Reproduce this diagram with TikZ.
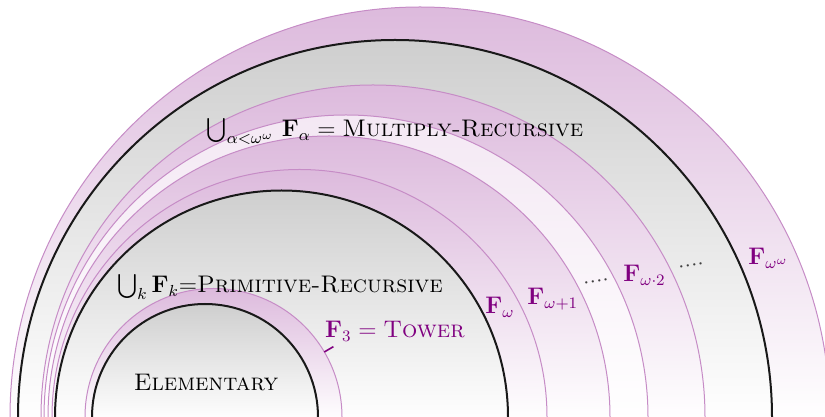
\documentclass[tikz,border=0pt]{standalone}
\usepackage{amsmath,amssymb}
\definecolor{mypurple}{HTML}{800080}
\tikzset{
  lbl/.style={font=\fontsize{12}{14}\selectfont, inner sep=0pt, anchor=base},
  plbl/.style={lbl, text=mypurple, anchor=base west},
  dlbl/.style={lbl, text=black!75, anchor=base west, rotate=9},
  pband/.style={top color=mypurple!27, bottom color=white, draw=mypurple!45, line width=0.5pt},
  pbandlight/.style={pband, top color=mypurple!9},
  gdisc/.style={top color=black!19, bottom color=white, draw=black!90, line width=1pt},
  tick/.style={draw=mypurple, line width=0.8pt},
}
\newcommand\halfdisc[3]{\path[#3] ({#1-#2},-4) -- ({#1-#2},0) arc[start angle=180,end angle=0,radius=#2] -- ({#1+#2},-4) -- cycle;}
\begin{document}
\begin{tikzpicture}[x=0.5pt,y=0.5pt]
\useasboundingbox (0,0) rectangle (825,417);
\clip (0,0) rectangle (825,417);
% outer F_{omega^omega}
\halfdisc{420}{410}{pband}
% Multiply-recursive
\halfdisc{395}{377}{gdisc}
% omega bands
\halfdisc{373}{332}{pband}
\halfdisc{346}{302}{pbandlight}
\halfdisc{329}{281}{pband}
\halfdisc{299.5}{247.5}{pband}
% Primitive recursive
\halfdisc{281.5}{226.5}{gdisc}
% F3 tower
\halfdisc{213.5}{128.5}{pband}
% Elementary
\halfdisc{205}{113}{gdisc}
% labels
\node[lbl] (mr) at (395,280) {$\bigcup_{\alpha<\omega^\omega}\,\mathbf{F}_\alpha = \textsc{Multiply-Recursive}$};
\node[lbl] (pr) at (280,124) {$\bigcup_k\mathbf{F}_k{=}$\textsc{Primitive-Recursive}};
\node[lbl] (el) at (206,26) {\textsc{Elementary}};
\node[lbl, text=mypurple] (tw) at (395,79) {$\mathbf{F}_3 = \textsc{Tower}$};
\node[plbl] (fw) at (485,103) {$\mathbf{F}_\omega$};
\node[plbl] (fw1) at (527,112) {$\mathbf{F}_{\omega+1}$};
\node[dlbl] (d1) at (583,132) {....};
\node[plbl] (fw2) at (623,135) {$\mathbf{F}_{\omega\cdot 2}$};
\node[dlbl] (d2) at (678,148) {....};
\node[plbl] (fww) at (748,152) {$\mathbf{F}_{\omega^\omega}$};
% tick from F3 circle to its label
\coordinate (t0) at ({213.5+128.5*cos(30.4)},{128.5*sin(30.4)});
\coordinate (t1) at ({213.5+139*cos(30.4)},{139*sin(30.4)});
\draw[tick] (t0) -- (t1);
\end{tikzpicture}
\end{document}
